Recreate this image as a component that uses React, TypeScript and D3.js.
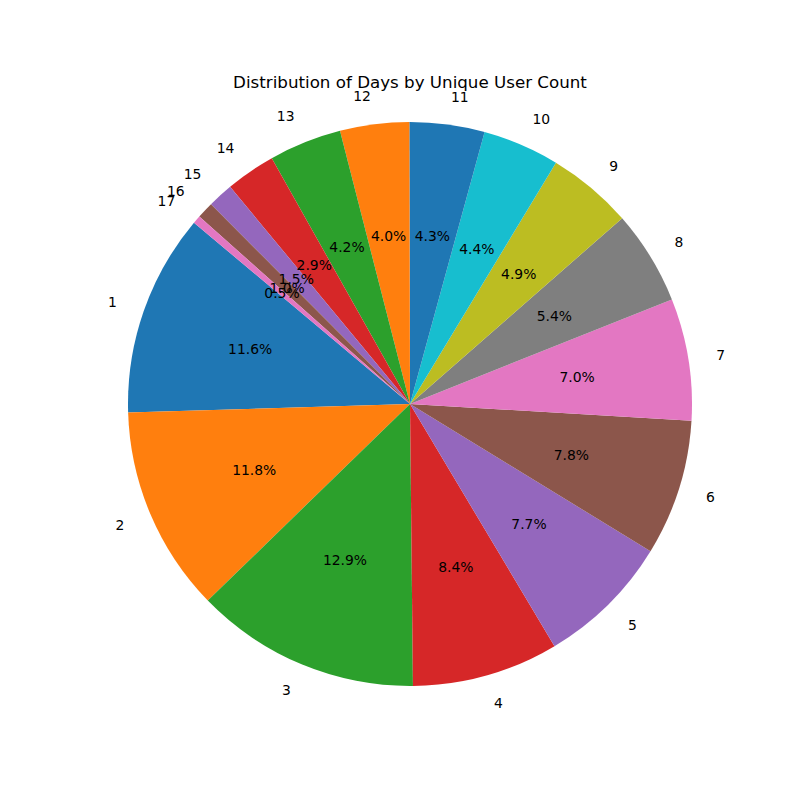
import React, { useRef, useEffect } from "react";
import * as d3 from "d3";

const categories = ["1", "2", "3", "4", "5", "6", "7", "8", "9", "10", "11", "12", "13", "14", "15", "16", "17"];
// share of days (%)
const shares = [11.6, 11.8, 12.9, 8.4, 7.7, 7.8, 7.0, 5.4, 4.9, 4.4, 4.3, 3.96, 4.16, 2.86, 1.46, 0.96, 0.46];
const palette = ["#1f77b4", "#ff7f0e", "#2ca02c", "#d62728", "#9467bd", "#8c564b", "#e377c2", "#7f7f7f", "#bcbd22", "#17becf"];
const title = "Distribution of Days by Unique User Count";

export default function App() {
  const svgRef = useRef<SVGSVGElement>(null);

  useEffect(() => {
    const svg = d3.select(svgRef.current);
    svg.selectAll("*").remove();

    const width = 800;
    const height = 800;
    const cx = 410;
    const cy = 404;
    const r = 282;
    const font = "DejaVu Sans, sans-serif";

    svg.append("rect").attr("width", width).attr("height", height).attr("fill", "#fff");

    // matplotlib startangle=140, counterclockwise -> d3 angles (clockwise from 12 o'clock)
    const start = ((90 - 140) * Math.PI) / 180;
    const pie = d3
      .pie<number>()
      .sort(null)
      .startAngle(start)
      .endAngle(start - 2 * Math.PI);
    const arcs = pie(shares);
    const total = d3.sum(shares);

    const arc = d3.arc<d3.PieArcDatum<number>>().innerRadius(0).outerRadius(r);

    const g = svg.append("g").attr("transform", `translate(${cx},${cy})`);

    g.selectAll("path.slice")
      .data(arcs)
      .join("path")
      .attr("class", "slice")
      .attr("d", arc)
      .attr("fill", (d, i) => palette[i % palette.length]);

    const mid = (d: d3.PieArcDatum<number>) => (d.startAngle + d.endAngle) / 2;

    // category labels at 1.1 r
    g.selectAll("text.cat")
      .data(arcs)
      .join("text")
      .attr("class", "cat")
      .attr("x", (d) => Math.sin(mid(d)) * r * 1.1)
      .attr("y", (d) => -Math.cos(mid(d)) * r * 1.1)
      .attr("text-anchor", (d) => (Math.sin(mid(d)) > 0 ? "start" : "end"))
      .attr("dominant-baseline", "central")
      .attr("font-family", font)
      .attr("font-size", 13.9)
      .attr("fill", "#000")
      .text((d, i) => categories[i]);

    // percentage labels at 0.6 r
    g.selectAll("text.pct")
      .data(arcs)
      .join("text")
      .attr("class", "pct")
      .attr("x", (d) => Math.sin(mid(d)) * r * 0.6)
      .attr("y", (d) => -Math.cos(mid(d)) * r * 0.6)
      .attr("text-anchor", "middle")
      .attr("dominant-baseline", "central")
      .attr("font-family", font)
      .attr("font-size", 13.9)
      .attr("fill", "#000")
      .text((d) => `${((d.value / total) * 100).toFixed(1)}%`);

    svg
      .append("text")
      .attr("x", cx)
      .attr("y", 88)
      .attr("text-anchor", "middle")
      .attr("font-family", font)
      .attr("font-size", 16.7)
      .attr("fill", "#000")
      .text(title);
  }, []);

  return <svg ref={svgRef} width={800} height={800} style={{ display: "block", position: "absolute", left: 0, top: 0 }} />;
}
